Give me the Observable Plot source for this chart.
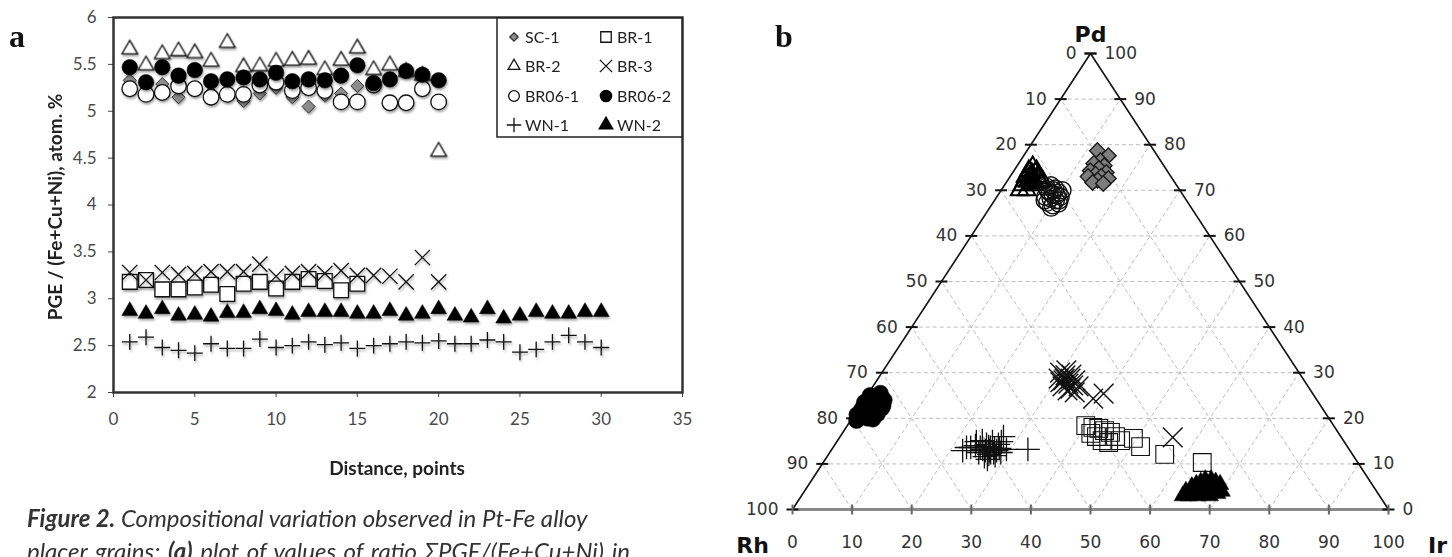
<!DOCTYPE html>
<html>
<head>
<meta charset="utf-8">
<script src="https://cdn.jsdelivr.net/npm/d3@7"></script>
<script src="https://cdn.jsdelivr.net/npm/@observablehq/plot@0.6"></script>
<style>
  html, body { margin: 0; padding: 0; background: #fff; }
  #page { position: relative; width: 1452px; height: 557px; overflow: hidden; background: #fff; }
  #left, #right, #overlay { position: absolute; top: 0; }
  #left { left: 0; }
  #right { left: 700px; }
  #overlay { left: 0; pointer-events: none; }
  #left svg text { font-size: 17px !important; fill: #4a4a4a; }
  #left g[aria-label="dot"] { filter: drop-shadow(1px 2px 1px rgba(0,0,0,0.35)); }
</style>
</head>
<body>
<div id="page">
  <div id="left"></div>
  <div id="right"></div>
  <svg id="overlay" width="1452" height="557"></svg>
</div>
<script>
// ---------------- Panel a data ----------------
const distance = [1,2,3,4,5,6,7,8,9,10,11,12,13,14,15,16,17,18,19,20,21,22,23,24,25,26,27,28,29,30];
const xTicks = [0,5,10,15,20,25,30,35];
const yTicks = [2,2.5,3,3.5,4,4.5,5,5.5,6];

const sc1   = [5.33,5.22,5.29,5.15,5.25,5.20,5.18,5.11,5.19,5.25,5.15,5.05,5.17,5.19,5.27];
const br1   = [3.18,3.20,3.10,3.10,3.12,3.15,3.05,3.16,3.18,3.11,3.18,3.21,3.19,3.09,3.16];
const br2   = [5.66,5.49,5.61,5.64,5.62,5.53,5.73,5.47,5.48,5.53,5.54,5.55,5.44,5.54,5.67,5.44,5.49,5.42,5.38,4.57];
const br3   = [3.28,3.20,3.28,3.26,3.27,3.29,3.29,3.29,3.37,3.24,3.27,3.29,3.27,3.30,3.25,3.25,3.24,3.18,3.44,3.18];
const br061 = [5.24,5.18,5.20,5.27,5.24,5.15,5.18,5.18,5.28,5.31,5.22,5.25,5.22,5.10,5.10,5.28,5.09,5.09,5.24,5.10];
const br062 = [5.47,5.31,5.47,5.38,5.44,5.32,5.34,5.36,5.34,5.41,5.32,5.34,5.33,5.38,5.49,5.30,5.34,5.43,5.39,5.33];
const wn1   = [2.54,2.59,2.48,2.45,2.42,2.52,2.47,2.47,2.57,2.48,2.50,2.54,2.51,2.53,2.47,2.50,2.52,2.54,2.53,2.55,2.52,2.52,2.56,2.54,2.43,2.46,2.54,2.61,2.54,2.48];
const wn2   = [2.87,2.84,2.89,2.82,2.83,2.81,2.85,2.85,2.89,2.87,2.83,2.86,2.86,2.86,2.84,2.84,2.87,2.82,2.84,2.89,2.82,2.80,2.89,2.79,2.82,2.86,2.84,2.84,2.86,2.86];

const sampleNames = ["SC-1","BR-1","BR-2","BR-3","BR06-1","BR06-2","WN-1","WN-2"];

// ---------------- Panel b data (Ir %, Pd %; Rh = rest) ----------------
const tSc1Ir = [11.8,14.2,13.4,12.6,14.6,14.0,12.8,15.7,14.1,15.3,13.1,16.7,15.1,14.5,16.4];
const tSc1Pd = [78.7,77.6,76.5,75.9,75.4,74.8,74.3,73.9,73.5,73.0,73.0,72.6,72.2,71.7,71.5];
const tBr1Ir = [40.0,41.4,42.5,41.7,43.7,44.9,43.0,46.2,44.4,45.7,47.5,49.4,51.5,56.4,63.6];
const tBr1Pd = [18.4,18.0,17.8,16.7,17.3,16.9,16.0,16.0,15.1,14.7,15.1,15.6,13.8,12.1,10.3];
const tBr2Ir = [2.7,2.5,3.8,3.3,2.6,5.0,4.4,3.5,5.8,4.2,3.8,2.9,5.1,3.5,3.1,4.3,4.6,3.3,5.9,3.0];
const tBr2Pd = [75.2,74.3,73.9,73.2,73.0,72.6,72.1,71.9,71.7,71.5,74.3,72.1,71.1,72.6,70.0,70.0,73.0,73.7,72.1,71.1];
const tBr3Ir = [29.9,31.1,32.3,31.3,32.5,33.5,30.3,30.7,33.3,31.8,33.4,31.3,32.0,33.1,34.5,31.0,34.5,38.3,39.5,55.9];
const tBr3Pd = [30.0,29.4,28.7,28.3,27.6,27.2,28.7,30.5,28.3,27.0,26.5,28.7,29.6,26.1,27.0,27.9,25.7,24.3,25.4,15.8];
const tBr061Ir = [7.8,8.9,7.8,9.9,9.1,8.1,10.7,9.2,10.3,9.1,11.1,10.3,8.4,10.3,8.4,9.9,8.8,7.2,10.9,10.3];
const tBr061Pd = [71.1,70.4,70.0,69.5,69.1,68.6,68.6,68.2,67.8,67.3,67.1,66.7,67.8,70.0,69.5,68.9,70.0,70.8,67.8,66.2];
const tBr062Ir = [0.5,1.5,2.5,0.3,1.2,2.8,3.8,0.6,1.8,3.0,3.8,0.4,1.5,2.6,3.6,1.0,2.2,3.4,3.9,2.0];
const tBr062Pd = [25.0,24.5,24.8,23.5,23.0,23.5,22.8,22.0,21.8,21.5,20.9,20.8,20.3,20.0,19.8,19.5,22.5,24.0,22.2,25.5];
const tWn1Ir = [22.1,23.7,24.3,26.0,27.2,27.0,25.9,27.4,27.4,25.0,28.7,26.4,28.1,32.9,23.1,26.1,27.2,24.7,27.8,29.3,26.4,25.4,27.5,25.3,28.0,26.6,23.4,27.6,26.9,22.4];
const tWn1Pd = [12.9,14.0,15.1,13.8,13.4,12.5,12.9,14.3,16.0,12.5,12.5,11.6,11.8,13.2,13.6,14.9,11.0,13.6,12.9,13.2,13.6,14.3,12.5,13.2,13.4,12.9,14.9,14.9,12.1,13.6];
const tWn2Ir = [64.0,65.0,66.0,67.0,68.0,69.0,65.5,66.5,67.5,68.5,64.5,66.0,67.0,68.0,69.5,65.0,66.5,67.5,66.0,67.0,68.5,65.5,64.0,69.0,66.5,67.5,65.0,68.0,70.0,66.0];
const tWn2Pd = [4.0,5.5,6.5,5.0,6.0,4.5,3.5,4.5,3.5,5.0,5.0,5.0,6.5,4.0,3.5,4.0,3.0,5.5,4.0,4.0,3.0,6.0,3.0,5.5,5.5,4.5,3.0,5.0,4.0,3.5];

const ternTicks = [0,10,20,30,40,50,60,70,80,90,100];
const gridLevels = [10,20,30,40,50,60,70,80,90];
const apexNames = ["Pd","Rh","Ir"];

// ---------------- Panel a ----------------
const ser = vals => vals.map((v, i) => ({x: distance[i], y: v}));
const ink = "#111";

const left = Plot.plot({
  width: 720, height: 440,
  marginLeft: 113, marginRight: 38, marginTop: 17, marginBottom: 48,
  style: {fontFamily: "Lato", fontSize: "17px", color: "#444", background: "transparent"},
  x: {domain: [0, 35], ticks: xTicks, tickSize: 5, tickPadding: 15, label: null, tickFormat: d => String(d)},
  y: {domain: [2, 6], ticks: yTicks, tickSize: 5, tickPadding: 12, label: null, tickFormat: d => String(d)},
  marks: [
    Plot.dot(ser(sc1),   {x: "x", y: "y", symbol: "diamond2", r: 5.9, fill: "#8c8c8c", stroke: "#333", strokeWidth: 1}),
    Plot.dot(ser(br1),   {x: "x", y: "y", symbol: "square", r: 8.3, fill: "#fff", stroke: ink, strokeWidth: 1.3}),
    Plot.dot(ser(br2),   {x: "x", y: "y", symbol: "triangle", r: 5.8, fill: "#fff", stroke: ink, strokeWidth: 1.3}),
    Plot.dot(ser(br3),   {x: "x", y: "y", symbol: "times", r: 7, fill: "none", stroke: ink, strokeWidth: 1.3}),
    Plot.dot(ser(br061), {x: "x", y: "y", symbol: "circle", r: 7.8, fill: "#fff", stroke: ink, strokeWidth: 1.3}),
    Plot.dot(ser(br062), {x: "x", y: "y", symbol: "circle", r: 7.8, fill: "#000", stroke: "#000", strokeWidth: 0.5}),
    Plot.dot(ser(wn1),   {x: "x", y: "y", symbol: "plus", r: 5.2, fill: "none", stroke: ink, strokeWidth: 1.3}),
    Plot.dot(ser(wn2),   {x: "x", y: "y", symbol: "triangle", r: 5.9, fill: "#000", stroke: "#000", strokeWidth: 0.5}),
    Plot.frame({stroke: "#333", strokeWidth: 2.5})
  ]
});
document.getElementById("left").appendChild(left);

// ---------------- Panel b (ternary) ----------------
const pts = (irs, pds) => irs.map((ir, i) => ({ir, pd: pds[i]}));
const TX = d => d.ir + d.pd / 2;
const TY = d => d.pd;
const seg = (a, b) => ({x1: a[0] + a[1] / 2, y1: a[1], x2: b[0] + b[1] / 2, y2: b[1]});

const gridSegs = [];
for (const k of gridLevels) {
  gridSegs.push(seg([0, k], [100 - k, k]));        // constant Pd
  gridSegs.push(seg([k, 0], [k, 100 - k]));        // constant Ir
  gridSegs.push(seg([100 - k, 0], [0, 100 - k]));  // constant Rh
}
const sideSegs = [seg([0, 0], [0, 100]), seg([100, 0], [0, 100])];
const baseSeg = [seg([0, 0], [100, 0])];

const hDash = {draw(ctx) { ctx.moveTo(-6, 0); ctx.lineTo(6, 0); }};
const vDash = {draw(ctx) { ctx.moveTo(0, -5); ctx.lineTo(0, 5); }};

const leftTick  = ternTicks.map(k => ({ir: 0, pd: k, label: String(100 - k)}));
const rightTick = ternTicks.map(k => ({ir: 100 - k, pd: k, label: String(k)}));
const baseTick  = ternTicks.map(k => ({ir: k, pd: 0, label: String(k)}));
const apexes = [
  {ir: 0, pd: 100, label: apexNames[0], dx: 0, dy: -19},
  {ir: 0, pd: 0, label: apexNames[1], dx: -40, dy: 36},
  {ir: 100, pd: 0, label: apexNames[2], dx: 49, dy: 36}
];

const right = Plot.plot({
  width: 752, height: 557,
  marginLeft: 92, marginRight: 64, marginTop: 53, marginBottom: 48,
  style: {fontFamily: "DejaVu Sans", fontSize: "16px", color: "#333", background: "transparent"},
  x: {domain: [0, 100], axis: null},
  y: {domain: [0, 100], axis: null},
  marks: [
    Plot.link(gridSegs, {x1: "x1", y1: "y1", x2: "x2", y2: "y2", stroke: "#bdbdbd", strokeWidth: 1, strokeDasharray: "4,3"}),
    Plot.link(baseSeg, {x1: "x1", y1: "y1", x2: "x2", y2: "y2", stroke: "#8a8a8a", strokeWidth: 3}),
    Plot.link(sideSegs, {x1: "x1", y1: "y1", x2: "x2", y2: "y2", stroke: "#111", strokeWidth: 1.6}),
    Plot.dot(leftTick, {x: TX, y: TY, symbol: hDash, r: 4, fill: "none", stroke: "#111", strokeWidth: 2}),
    Plot.dot(rightTick, {x: TX, y: TY, symbol: hDash, r: 4, fill: "none", stroke: "#111", strokeWidth: 2}),
    Plot.dot(baseTick, {x: TX, y: TY, symbol: vDash, r: 4, fill: "none", stroke: "#666", strokeWidth: 2}),
    Plot.text(leftTick, {x: TX, y: TY, text: "label", textAnchor: "end", dx: -14, fontSize: 17, fill: "#333"}),
    Plot.text(rightTick, {x: TX, y: TY, text: "label", textAnchor: "start", dx: 14, fontSize: 17, fill: "#333"}),
    Plot.text(baseTick, {x: TX, y: TY, text: "label", dy: 33, fontSize: 17, fill: "#333"}),
    ...apexes.map(a => Plot.text([a], {x: TX, y: TY, text: "label", dx: a.dx, dy: a.dy, fontSize: 22, fontWeight: "bold", fill: "#111"})),
    Plot.dot(pts(tSc1Ir, tSc1Pd), {x: TX, y: TY, symbol: "diamond2", r: 7, fill: "#7d7d7d", stroke: "#1a1a1a", strokeWidth: 1.4}),
    Plot.dot(pts(tBr1Ir, tBr1Pd), {x: TX, y: TY, symbol: "square", r: 10, fill: "none", stroke: "#111", strokeWidth: 1.1}),
    Plot.dot(pts(tBr2Ir, tBr2Pd), {x: TX, y: TY, symbol: "triangle", r: 6.5, fill: "none", stroke: "#000", strokeWidth: 2}),
    Plot.dot(pts(tBr3Ir, tBr3Pd), {x: TX, y: TY, symbol: "times", r: 9, fill: "none", stroke: "#111", strokeWidth: 1.4}),
    Plot.dot(pts(tBr061Ir, tBr061Pd), {x: TX, y: TY, symbol: "circle", r: 8.5, fill: "none", stroke: "#111", strokeWidth: 1.4}),
    Plot.dot(pts(tBr062Ir, tBr062Pd), {x: TX, y: TY, symbol: "circle", r: 8, fill: "#000", stroke: "#000", strokeWidth: 0.5}),
    Plot.dot(pts(tWn1Ir, tWn1Pd), {x: TX, y: TY, symbol: "plus", r: 7.7, fill: "none", stroke: "#111", strokeWidth: 1.3}),
    Plot.dot(pts(tWn2Ir, tWn2Pd), {x: TX, y: TY, symbol: "triangle", r: 6.5, fill: "#000", stroke: "#000", strokeWidth: 0.5})
  ]
});
document.getElementById("right").appendChild(right);

// ---------------- Overlay: titles, legend, panel letters, caption ----------------
const ov = d3.select("#overlay");

// y-axis title (panel a)
ov.append("text")
  .attr("transform", "translate(62,207) rotate(-90)")
  .attr("text-anchor", "middle")
  .attr("font-family", "Lato").attr("font-weight", "bold").attr("font-size", 19)
  .attr("fill", "#222")
  .text("PGE / (Fe+Cu+Ni), atom. %");

// x-axis title (panel a)
ov.append("text")
  .attr("x", 397).attr("y", 475)
  .attr("text-anchor", "middle")
  .attr("font-family", "Lato").attr("font-weight", "bold").attr("font-size", 19)
  .attr("fill", "#222")
  .text("Distance, points");

// legend (panel a)
ov.append("rect").attr("x", 497).attr("y", 18).attr("width", 185).attr("height", 119)
  .attr("fill", "#fff").attr("stroke", "#222").attr("stroke-width", 1.5);
const legendSym = [
  {type: d3.symbolDiamond2, size: 45, fill: "#8c8c8c", stroke: "#333"},
  {type: d3.symbolSquare, size: 110, fill: "#fff", stroke: "#111"},
  {type: d3.symbolTriangle, size: 60, fill: "#fff", stroke: "#111"},
  {type: d3.symbolTimes, size: 100, fill: "none", stroke: "#111"},
  {type: d3.symbolCircle, size: 90, fill: "#fff", stroke: "#111"},
  {type: d3.symbolCircle, size: 100, fill: "#000", stroke: "#000"},
  {type: d3.symbolPlus, size: 70, fill: "none", stroke: "#111"},
  {type: d3.symbolTriangle, size: 80, fill: "#000", stroke: "#000"}
];
const rowY = [37, 66, 96, 125];
sampleNames.forEach((name, i) => {
  const col = i % 2, row = Math.floor(i / 2);
  const sx = col === 0 ? 514 : 606;
  const s = legendSym[i];
  ov.append("path")
    .attr("transform", `translate(${sx},${rowY[row]})`)
    .attr("d", d3.symbol(s.type, s.size)())
    .attr("fill", s.fill).attr("stroke", s.stroke).attr("stroke-width", 1.3);
  ov.append("text")
    .attr("x", sx + 11).attr("y", rowY[row])
    .attr("dy", "0.36em")
    .attr("font-family", "Lato").attr("font-size", 16).attr("fill", "#222")
    .text(name);
});

// panel letters
ov.append("text").attr("x", 9).attr("y", 47)
  .attr("font-family", "Liberation Serif").attr("font-weight", "bold").attr("font-size", 32)
  .attr("fill", "#111").text("a");
ov.append("text").attr("x", 775).attr("y", 47)
  .attr("font-family", "Liberation Serif").attr("font-weight", "bold").attr("font-size", 32)
  .attr("fill", "#111").text("b");

// caption
const cap1 = ov.append("text").attr("x", 27).attr("y", 527)
  .attr("font-family", "Lato").attr("font-style", "italic").attr("font-size", 24).attr("fill", "#333");
cap1.append("tspan").attr("font-weight", "bold").text("Figure 2.");
cap1.append("tspan").text(" Compositional variation observed in Pt-Fe alloy");
const cap2 = ov.append("text").attr("x", 27).attr("y", 560)
  .attr("font-family", "Lato").attr("font-style", "italic").attr("font-size", 24).attr("fill", "#333")
  .attr("word-spacing", 2);
cap2.append("tspan").text("placer grains; ");
cap2.append("tspan").attr("font-weight", "bold").text("(a)");
cap2.append("tspan").text(" plot of values of ratio \u03A3PGE/(Fe+Cu+Ni) in");
</script>
</body>
</html>
